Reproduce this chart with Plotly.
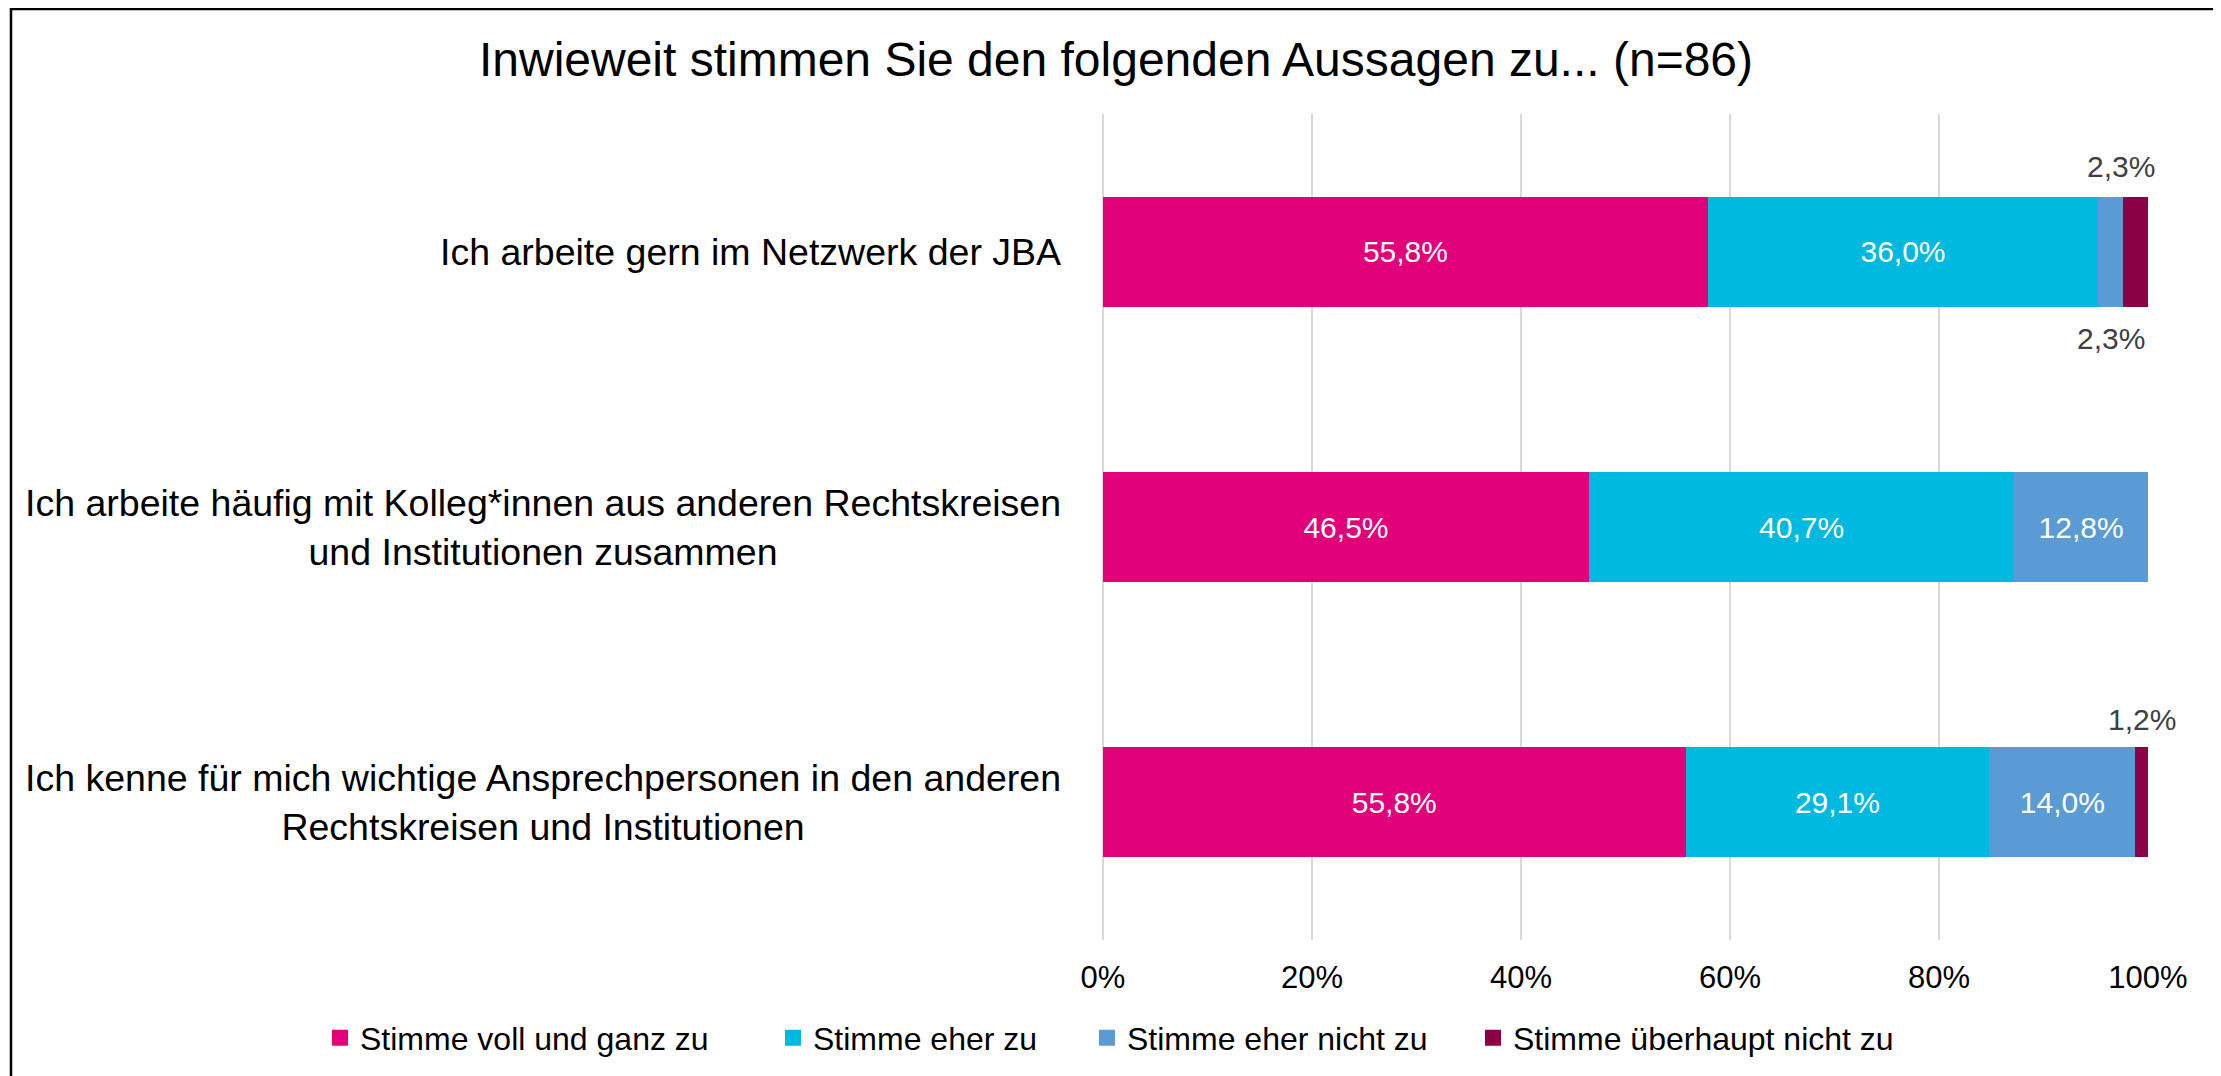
import numpy as np
import plotly.graph_objects as go

# ---------------- data ----------------
categories = [
    "Ich arbeite gern im Netzwerk der JBA",
    "Ich arbeite häufig mit Kolleg*innen aus anderen Rechtskreisen<br>und Institutionen zusammen",
    "Ich kenne für mich wichtige Ansprechpersonen in den anderen<br>Rechtskreisen und Institutionen",
]
series_names = [
    "Stimme voll und ganz zu",
    "Stimme eher zu",
    "Stimme eher nicht zu",
    "Stimme überhaupt nicht zu",
]
voll_und_ganz = [55.8, 46.5, 55.8]
eher_zu = [36.0, 40.7, 29.1]
eher_nicht = [2.3, 12.8, 14.0]
ueberhaupt_nicht = [2.3, 0.0, 1.2]
tick_values = [0, 20, 40, 60, 80, 100]
tick_labels = ["0%", "20%", "40%", "60%", "80%", "100%"]

series_values = [voll_und_ganz, eher_zu, eher_nicht, ueberhaupt_nicht]
colors = ["#E2007A", "#00B9E0", "#5B9BD5", "#8C0048"]

# ---------------- layout constants (page pixels) ----------------
W, H = 2221, 1076
OFF = 8                      # default HTML body margin
FW, FH = W - OFF, H - OFF    # figure size
ML, MR, MT, MB = 1103 - OFF, 73, 114 - OFF, 136
PW, PH = FW - ML - MR, FH - MT - MB
FONT = "Liberation Sans, Arial, sans-serif"
SMALL = 5.0  # values below this get their label outside the bar


def fmt(v):
    return f"{v:.1f}".replace(".", ",") + "%"


def px_x(page_x):
    return (page_x - OFF - ML) / PW


def px_y(page_y):
    return (PH - (page_y - OFF - MT)) / PH


fig = go.Figure()
legend_ids = ["legend", "legend2", "legend3", "legend4"]
for name, vals, col in zip(series_names, series_values, colors):
    fig.add_trace(go.Bar(
        y=categories, x=vals, name=name, orientation="h",
        marker=dict(color=col, line=dict(width=0)),
        text=[fmt(v) if v >= SMALL else "" for v in vals],
        textposition="inside", insidetextanchor="middle",
        textangle=0, constraintext="none",
        textfont=dict(family=FONT, size=30, color="white"),
        showlegend=False,
    ))

# legend entries (square swatches)
for name, col, lg in zip(series_names, colors, legend_ids):
    fig.add_trace(go.Scatter(
        x=[None], y=[None], mode="markers", name=name,
        marker=dict(symbol="square", size=16, color=col),
        legend=lg, showlegend=True, hoverinfo="skip",
    ))

# outside labels for small segments
arr = np.array(series_values, dtype=float)  # shape (series, cats)
totals = arr.sum(axis=0)
starts = np.vstack([np.zeros(arr.shape[1]), np.cumsum(arr, axis=0)[:-1]])
annotations = []
n_series = len(series_values)
for s in range(n_series):
    for c in range(len(categories)):
        v = arr[s, c]
        if 0 < v < SMALL:
            center = (starts[s, c] + v / 2) / totals[c] * 100
            above = (s == n_series - 1)
            annotations.append(dict(
                x=center, y=categories[c], xref="x", yref="y",
                text=fmt(v), showarrow=False,
                yshift=(85 if c == 0 else 83) if above else -87,
                xshift=-15 if above and c == 0 else 0,
                font=dict(family=FONT, size=30, color="#404040"),
            ))

# category labels (centered multi-line, right-anchored)
for cat in categories:
    annotations.append(dict(
        x=0, y=cat, xref="paper", yref="y", xanchor="right", yanchor="middle",
        xshift=-40, text=cat, showarrow=False, align="center",
        font=dict(family=FONT, size=37.5, color="#000000"),
    ))

# legends positioned individually
marker_centers = [340, 793, 1107, 1493]
legend_layouts = {}
for lg, mc in zip(legend_ids, marker_centers):
    legend_layouts[lg] = dict(
        x=px_x(mc - 20), y=px_y(1038), xanchor="left", yanchor="middle",
        orientation="h", bgcolor="rgba(0,0,0,0)", borderwidth=0,
        font=dict(family=FONT, size=32, color="#000000"),
        traceorder="normal",
    )

# outer border
border = dict(
    type="rect", xref="paper", yref="paper",
    x0=px_x(11), x1=px_x(2217),
    y0=px_y(1082), y1=px_y(OFF + 1),
    line=dict(color="#000000", width=2.5), fillcolor="rgba(0,0,0,0)",
    layer="above",
)

fig.update_layout(
    width=FW, height=FH,
    margin=dict(l=ML, r=MR, t=MT, b=MB, autoexpand=False),
    paper_bgcolor="white", plot_bgcolor="white",
    barmode="stack", barnorm="percent", bargap=0.6,
    title=dict(
        text="Inwieweit stimmen Sie den folgenden Aussagen zu... (n=86)",
        x=(1116 - OFF) / FW, xref="container", xanchor="center",
        y=1 - (59 - OFF) / FH, yref="container", yanchor="middle",
        font=dict(family=FONT, size=48, color="#000000"),
    ),
    xaxis=dict(
        range=[0, 100], tickvals=tick_values, ticktext=tick_labels,
        showgrid=True, gridcolor="#D9D9D9", gridwidth=2,
        zeroline=True, zerolinecolor="#D9D9D9", zerolinewidth=2,
        showline=False, ticks="", ticklabelstandoff=16,
        tickfont=dict(family=FONT, size=31, color="#000000"),
        fixedrange=True,
    ),
    yaxis=dict(
        type="category", autorange="reversed", showticklabels=False,
        showgrid=False, zeroline=False, showline=False, ticks="",
        fixedrange=True,
    ),
    annotations=annotations,
    shapes=[border],
    showlegend=True,
    **legend_layouts,
)

fig.write_html("out.html")
